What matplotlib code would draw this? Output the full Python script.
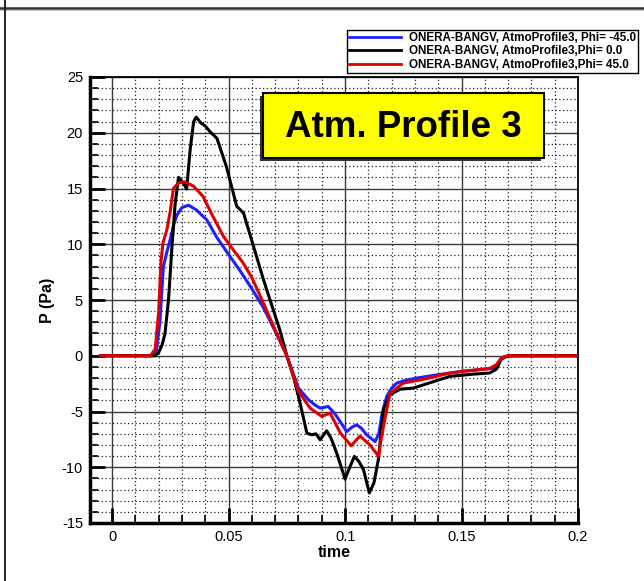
import matplotlib
matplotlib.use("Agg")
import matplotlib.pyplot as plt
from matplotlib.lines import Line2D
from matplotlib.patches import Rectangle
from matplotlib.ticker import MultipleLocator

plt.rcParams['font.family'] = ['Liberation Sans', 'DejaVu Sans']
plt.rcParams['axes.unicode_minus'] = False

# Pressure signatures, Phi = -45
t_m45 = [-0.005, 0.017, 0.019, 0.0205, 0.022, 0.0235, 0.0249, 0.0265, 0.0278, 0.0300,
         0.0328, 0.0360, 0.0406, 0.0450, 0.0506, 0.0550, 0.0600, 0.0650, 0.0700, 0.0750,
         0.0800, 0.0843, 0.0870, 0.0893, 0.0928, 0.0960, 0.1007, 0.1030, 0.1050, 0.1070,
         0.1093, 0.1129, 0.1145, 0.1157, 0.1170, 0.1180, 0.1200, 0.1222, 0.1260, 0.1308,
         0.1400, 0.1500, 0.1600, 0.1640, 0.1660, 0.1680, 0.1720, 0.2000]
p_m45 = [0, 0, 0.5, 3.0, 8.0, 9.3, 10.4, 11.8, 12.6, 13.3,
         13.5, 13.1, 12.2, 10.6, 8.9, 7.6, 6.0, 4.3, 2.2, 0.0,
         -2.9, -3.95, -4.4, -4.7, -4.55, -5.3, -6.8, -6.4, -6.2, -6.5,
         -7.1, -7.7, -7.0, -5.4, -4.3, -3.6, -2.9, -2.45, -2.2, -2.0,
         -1.7, -1.4, -1.2, -1.1, -0.6, -0.1, 0, 0]

# Phi = 0
t_0 = [-0.005, 0.0185, 0.0200, 0.0215, 0.0227, 0.0242, 0.0256, 0.0270, 0.0285, 0.0305,
       0.0320, 0.0335, 0.0350, 0.0361, 0.0380, 0.0400, 0.0420, 0.0450, 0.0490, 0.0535,
       0.0564, 0.0590, 0.0620, 0.0650, 0.0678, 0.0720, 0.0750, 0.0780, 0.0807, 0.0836,
       0.0857, 0.0875, 0.0893, 0.0921, 0.0940, 0.0964, 0.1000, 0.1020, 0.1040, 0.1060,
       0.1079, 0.1104, 0.1124, 0.1143, 0.1165, 0.1193, 0.1236, 0.1293, 0.1450, 0.1550,
       0.1620, 0.1650, 0.1670, 0.1700, 0.2000]
p_0 = [0, 0, 0.3, 1.0, 2.0, 5.0, 9.5, 13.5, 16.0, 15.5,
       14.95, 18.5, 21.0, 21.4, 20.9, 20.6, 20.1, 19.5, 17.0, 13.4,
       12.8, 11.0, 8.9, 6.8, 5.0, 2.3, 0, -2.0, -4.24, -6.94,
       -7.09, -7.0, -7.53, -6.73, -7.4, -8.73, -11.06, -10.0, -9.03, -9.5,
       -10.2, -12.3, -11.4, -9.3, -4.8, -3.5, -3.0, -2.9, -1.85, -1.65,
       -1.55, -1.2, -0.3, 0, 0]

# Phi = 45
t_p45 = [-0.005, 0.0165, 0.0185, 0.0200, 0.0210, 0.0218, 0.0235, 0.0250, 0.0263, 0.0285,
         0.0313, 0.0350, 0.0390, 0.0430, 0.0478, 0.0520, 0.0560, 0.0600, 0.0650, 0.0700,
         0.0750, 0.0800, 0.0850, 0.0900, 0.0936, 0.0979, 0.1026, 0.1064, 0.1107, 0.1143,
         0.1165, 0.1193, 0.1250, 0.1350, 0.1450, 0.1550, 0.1620, 0.1650, 0.1670, 0.1700,
         0.2000]
p_p45 = [0, 0, 0.6, 4.0, 8.5, 10.1, 11.3, 13.0, 15.0, 15.5,
         15.6, 15.2, 14.3, 12.6, 10.7, 9.5, 8.4, 7.0, 4.7, 2.3,
         0, -3.2, -4.7, -5.44, -5.14, -6.9, -8.07, -7.2, -8.0, -9.0,
         -6.3, -3.35, -2.45, -2.05, -1.55, -1.3, -1.15, -0.8, -0.2, 0,
         0]

labels = ["ONERA-BANGV, AtmoProfile3, Phi= -45.0",
          "ONERA-BANGV, AtmoProfile3,Phi= 0.0",
          "ONERA-BANGV, AtmoProfile3,Phi= 45.0"]
colors = ["#2020ff", "#000000", "#dd0000"]

W, H = 644, 581
fig = plt.figure(figsize=(W / 100, H / 100), dpi=100)
ax = fig.add_axes([90 / W, 1 - 523 / H, 488 / W, 446 / H])

lw = 2.2
l1, = ax.plot(t_m45, p_m45, color=colors[0], lw=lw, label=labels[0], zorder=5)
l2, = ax.plot(t_0, p_0, color=colors[1], lw=lw, label=labels[1], zorder=5)
l3, = ax.plot(t_p45, p_p45, color=colors[2], lw=lw, label=labels[2], zorder=6)

ax.set_xlim(-0.0095, 0.2)
ax.set_ylim(-15, 25)
ax.xaxis.set_major_locator(MultipleLocator(0.05))
ax.xaxis.set_minor_locator(MultipleLocator(0.01))
ax.yaxis.set_major_locator(MultipleLocator(5))
ax.yaxis.set_minor_locator(MultipleLocator(1))
ax.set_xticks([0, 0.05, 0.1, 0.15, 0.2])
ax.set_xticklabels(["0", "0.05", "0.1", "0.15", "0.2"])

ax.grid(which='major', color='#3a3a3a', lw=1.0, ls='-', zorder=1)
ax.grid(which='minor', color='#222222', lw=0.9, ls=(0, (1, 2)), zorder=1)
ax.set_axisbelow(True)

ax.tick_params(which='major', direction='in', length=11, width=2,
               labelsize=10.5, pad=5, top=False, right=False)
ax.tick_params(which='minor', direction='in', length=6, width=1.2,
               top=False, right=False)
for side in ('left', 'bottom'):
    ax.spines[side].set_linewidth(2.5)
for side in ('top', 'right'):
    ax.spines[side].set_linewidth(1.3)

ax.set_xlabel("time", fontsize=11.5, fontweight='bold', labelpad=1)
ax.set_ylabel("P (Pa)", fontsize=11.5, fontweight='bold', labelpad=5)

# Title box with shadow
bx0, bx1 = (263 - 90) / 488, (544 - 90) / 488
by0, by1 = (523 - 158) / 446, (523 - 93) / 446
sx, sy = 3 / 488, 3 / 446
ax.add_patch(Rectangle((bx0 - sx, by0 - sy), bx1 - bx0, by1 - by0,
                       transform=ax.transAxes, facecolor='#333333',
                       edgecolor='none', zorder=7))
ax.add_patch(Rectangle((bx0, by0), bx1 - bx0, by1 - by0,
                       transform=ax.transAxes, facecolor='#ffff00',
                       edgecolor='black', lw=1.5, zorder=8))
ax.text((bx0 + bx1) / 2, (by0 + by1) / 2 - 0.004, "Atm. Profile 3",
        transform=ax.transAxes, ha='center', va='center',
        fontsize=26.5, fontweight='bold', zorder=9)

leg = fig.legend(handles=[l1, l2, l3], loc='upper right',
                 bbox_to_anchor=(638 / W, 1 - 30 / H),
                 prop={'size': 8.4, 'weight': 'bold'},
                 frameon=True, fancybox=False, framealpha=1,
                 edgecolor='black', handlelength=4.4, handletextpad=0.7,
                 labelspacing=0.1, borderpad=0.2, borderaxespad=0)
leg.get_frame().set_linewidth(1.0)
for ln in leg.get_lines():
    ln.set_linewidth(2.0)

# Window frame lines
fig.add_artist(Line2D([0, 1], [1 - 7.5 / H, 1 - 7.5 / H], transform=fig.transFigure,
                      color='#333333', lw=1.8))
fig.add_artist(Line2D([0, 1], [1 - 9.8 / H, 1 - 9.8 / H], transform=fig.transFigure,
                      color='#c8c8c8', lw=0.8))
fig.add_artist(Line2D([4.5 / W, 4.5 / W], [0, 1], transform=fig.transFigure,
                      color='#111111', lw=1.3))

fig.savefig("out.png", dpi=100)
